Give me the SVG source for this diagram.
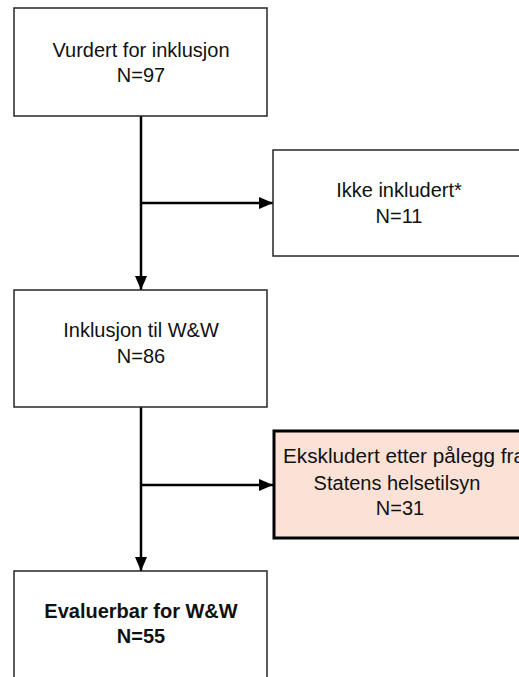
<svg xmlns="http://www.w3.org/2000/svg" width="519" height="677" viewBox="0 0 519 677">
<style>
.box{fill:#fff;stroke:#262626;stroke-width:1.5}
.hl{fill:#FBE1D6;stroke:#000;stroke-width:3}
.t{font-family:"Liberation Sans",Arial,sans-serif;font-size:20px;fill:#111;text-anchor:middle}
.b{font-weight:bold}
.c{stroke:#000;stroke-width:2.5;fill:none}
</style>
<defs>
<marker id="ah" markerWidth="14" markerHeight="12" refX="14" refY="6" orient="auto" markerUnits="userSpaceOnUse">
<path d="M0,0 L14,6 L0,12 Z" fill="#000"/>
</marker>
</defs>
<g id="connectors">
<line class="c" x1="141" y1="116" x2="141" y2="290" marker-end="url(#ah)"/>
<line class="c" x1="141" y1="203" x2="273" y2="203" marker-end="url(#ah)"/>
<line class="c" x1="141" y1="407" x2="141" y2="571" marker-end="url(#ah)"/>
<line class="c" x1="141" y1="485" x2="273" y2="485" marker-end="url(#ah)"/>
</g>
<g id="n1">
<rect class="box" x="14" y="8" width="253" height="108"/>
<text class="t" x="141" y="57">Vurdert for inklusjon</text>
<text class="t" x="141" y="82">N=97</text>
</g>
<g id="n2">
<rect class="box" x="273" y="150" width="260" height="106"/>
<text class="t" x="399" y="197">Ikke inkludert*</text>
<text class="t" x="399" y="223">N=11</text>
</g>
<g id="n3">
<rect class="box" x="14" y="290" width="253" height="117"/>
<text class="t" x="141" y="337">Inklusjon til W&amp;W</text>
<text class="t" x="141" y="363">N=86</text>
</g>
<g id="n4">
<rect class="hl" x="274" y="431" width="260" height="107"/>
<text class="t" x="283" y="463" style="text-anchor:start" textLength="242" lengthAdjust="spacingAndGlyphs">Ekskludert etter pålegg fra</text>
<text class="t" x="397" y="490">Statens helsetilsyn</text>
<text class="t" x="400" y="515">N=31</text>
</g>
<g id="n5">
<rect class="box" x="14" y="571" width="253" height="120"/>
<text class="t b" x="141" y="618">Evaluerbar for W&amp;W</text>
<text class="t b" x="141" y="643">N=55</text>
</g>
</svg>
